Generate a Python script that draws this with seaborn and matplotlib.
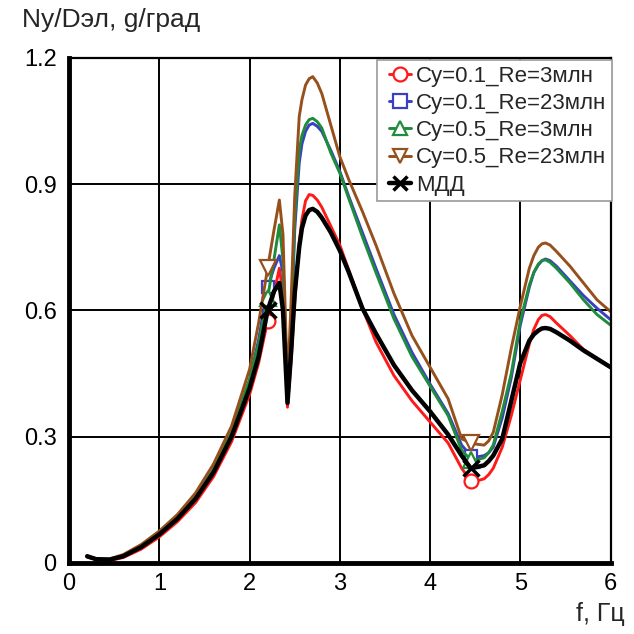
import numpy as np
import pandas as pd
import matplotlib
matplotlib.use("Agg")
import matplotlib.pyplot as plt
from matplotlib.legend_handler import HandlerLine2D
import seaborn as sns

# Frequency grid, Hz
f = [0.2, 0.3, 0.45, 0.6, 0.8, 1.0, 1.2, 1.4, 1.6, 1.8, 2.0, 2.1, 2.2, 2.27, 2.33,
     2.37, 2.42, 2.46, 2.5, 2.55, 2.58, 2.62, 2.66, 2.7, 2.75, 2.8, 2.9, 3.0, 3.1,
     3.25, 3.4, 3.6, 3.8, 4.0, 4.2, 4.35, 4.45, 4.52, 4.6, 4.65, 4.7, 4.8, 4.9,
     5.0, 5.1, 5.15, 5.2, 5.24, 5.28, 5.33, 5.4, 5.55, 5.7, 5.85, 6.0]

# Ny/Dэл response, g/град
cy01_re3 = [0.014, 0.008, 0.006, 0.013, 0.033, 0.062, 0.098, 0.143, 0.205, 0.288,
            0.400, 0.475, 0.575, 0.640, 0.700, 0.640, 0.370, 0.480, 0.620, 0.760,
            0.815, 0.860, 0.875, 0.873, 0.862, 0.845, 0.800, 0.755, 0.695, 0.605,
            0.525, 0.445, 0.385, 0.335, 0.285, 0.225, 0.195, 0.195, 0.200, 0.210,
            0.225, 0.275, 0.350, 0.435, 0.520, 0.555, 0.578, 0.588, 0.590, 0.585,
            0.570, 0.540, 0.507, 0.485, 0.465]
cy01_re23 = [0.016, 0.009, 0.008, 0.017, 0.040, 0.070, 0.108, 0.157, 0.222, 0.310,
             0.435, 0.530, 0.655, 0.700, 0.730, 0.690, 0.390, 0.540, 0.790, 0.950,
             0.995, 1.025, 1.040, 1.044, 1.037, 1.025, 0.980, 0.930, 0.870, 0.785,
             0.700, 0.590, 0.500, 0.425, 0.355, 0.280, 0.255, 0.252, 0.255, 0.262,
             0.275, 0.345, 0.440, 0.565, 0.655, 0.690, 0.708, 0.718, 0.722, 0.718,
             0.705, 0.670, 0.635, 0.605, 0.578]
cy05_re3 = [0.016, 0.009, 0.008, 0.017, 0.040, 0.070, 0.108, 0.157, 0.222, 0.310,
            0.435, 0.520, 0.630, 0.720, 0.803, 0.720, 0.400, 0.560, 0.820, 0.980,
            1.015, 1.040, 1.053, 1.056, 1.048, 1.033, 0.974, 0.926, 0.865, 0.775,
            0.690, 0.580, 0.490, 0.420, 0.350, 0.268, 0.245, 0.245, 0.250, 0.262,
            0.280, 0.360, 0.450, 0.575, 0.660, 0.690, 0.710, 0.718, 0.720, 0.714,
            0.700, 0.665, 0.625, 0.590, 0.565]
cy05_re23 = [0.017, 0.010, 0.010, 0.020, 0.044, 0.076, 0.115, 0.166, 0.235, 0.325,
             0.460, 0.570, 0.700, 0.790, 0.862, 0.780, 0.420, 0.620, 0.870, 1.060,
             1.100, 1.135, 1.150, 1.155, 1.140, 1.115, 1.040, 0.965, 0.910, 0.835,
             0.755, 0.640, 0.540, 0.465, 0.390, 0.295, 0.285, 0.282, 0.280, 0.290,
             0.310, 0.400, 0.510, 0.610, 0.700, 0.730, 0.750, 0.758, 0.760, 0.755,
             0.740, 0.705, 0.665, 0.625, 0.597]
mdd = [0.016, 0.009, 0.008, 0.016, 0.038, 0.068, 0.105, 0.152, 0.215, 0.300,
       0.415, 0.490, 0.600, 0.645, 0.665, 0.600, 0.380, 0.500, 0.640, 0.750,
       0.795, 0.825, 0.838, 0.841, 0.834, 0.820, 0.785, 0.742, 0.690, 0.605,
       0.545, 0.470, 0.410, 0.360, 0.305, 0.255, 0.225, 0.228, 0.232, 0.242,
       0.255, 0.295, 0.385, 0.475, 0.528, 0.543, 0.552, 0.557, 0.558, 0.556,
       0.548, 0.528, 0.505, 0.485, 0.465]

series_names = ["Cy=0.1_Re=3млн", "Cy=0.1_Re=23млн", "Cy=0.5_Re=3млн",
                "Cy=0.5_Re=23млн", "МДД"]
marker_f = [2.2, 4.45]

x_ticks = [0, 1, 2, 3, 4, 5, 6]
y_ticks = [0, 0.3, 0.6, 0.9, 1.2]
y_tick_labels = ["0", "0.3", "0.6", "0.9", "1.2"]

df = pd.DataFrame({"f": f, series_names[0]: cy01_re3, series_names[1]: cy01_re23,
                   series_names[2]: cy05_re3, series_names[3]: cy05_re23,
                   series_names[4]: mdd})

styles = {
    series_names[0]: dict(color="#ff1a1a", marker="o", lw=2.1, ms=10),
    series_names[1]: dict(color="#3a3fc4", marker="s", lw=2.1, ms=9),
    series_names[2]: dict(color="#1e8c3a", marker="^", lw=2.1, ms=11),
    series_names[3]: dict(color="#96501c", marker="v", lw=2.1, ms=11),
    series_names[4]: dict(color="#000000", marker="x", lw=3.2, ms=11),
}

sns.set_theme(style="white")
plt.rcParams["font.family"] = ["Liberation Sans", "DejaVu Sans"]

fig = plt.figure(figsize=(6.34, 6.34), dpi=100)
ax = fig.add_axes([0.109, 0.112, 0.854, 0.797])

mark_idx = [f.index(v) for v in marker_f]
for name in series_names:
    st = styles[name]
    sns.lineplot(data=df, x="f", y=name, ax=ax, color=st["color"], lw=st["lw"],
                 marker=st["marker"], markevery=mark_idx, markersize=st["ms"],
                 markerfacecolor="white" if st["marker"] != "x" else st["color"],
                 markeredgecolor=st["color"],
                 markeredgewidth=1.6 if st["marker"] != "x" else 2.5,
                 label=name, errorbar=None, zorder=3)

ax.set_xlim(0, 6)
ax.set_ylim(0, 1.2)
ax.set_xticks(x_ticks)
ax.set_xticklabels([str(t) for t in x_ticks])
ax.set_yticks(y_ticks)
ax.set_yticklabels(y_tick_labels)
ax.set_xlabel("")
ax.set_ylabel("")
ax.grid(True, color="black", lw=1.4)
ax.set_axisbelow(True)
ax.tick_params(axis="both", length=0, labelsize=17, colors="black")
ax.tick_params(axis="x", pad=7)
ax.tick_params(axis="y", pad=9)
for side in ("left", "bottom"):
    ax.spines[side].set_linewidth(3.5)
for side in ("top", "right"):
    ax.spines[side].set_linewidth(1.6)
for sp in ax.spines.values():
    sp.set_color("black")
    sp.set_zorder(4)


class LeftMarkerHandler(HandlerLine2D):
    """Legend handle with the marker at the left end of the line."""
    def get_xdata(self, legend, xdescent, ydescent, width, height, fontsize):
        x0 = -xdescent + 0.2 * width
        return [x0, -xdescent + width], [x0]


handles, labels = ax.get_legend_handles_labels()
leg = ax.legend(handles, labels, loc="upper right", bbox_to_anchor=(1.003, 0.995),
                fontsize=16, handlelength=1.25, handletextpad=0.25,
                labelspacing=0.28, borderpad=0.25, borderaxespad=0.0,
                frameon=True, fancybox=False, framealpha=1.0,
                handler_map={h: LeftMarkerHandler(numpoints=1) for h in handles})
leg.get_frame().set_edgecolor("#9a9a9a")
leg.get_frame().set_linewidth(1.2)
leg.set_zorder(5)
for h in leg.legend_handles:
    h.set_markersize(10)

fig.text(0.035, 0.988, "Ny/Dэл, g/град", fontsize=19, ha="left", va="top")
fig.text(0.986, 0.012, "f, Гц", fontsize=18, ha="right", va="bottom")

fig.savefig("out.png", dpi=100, facecolor="white")
